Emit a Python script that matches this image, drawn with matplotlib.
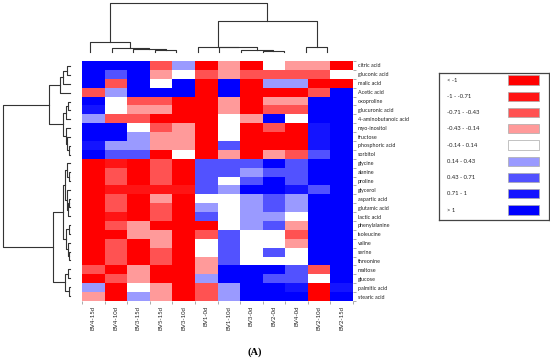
import numpy as np
import matplotlib
matplotlib.use('Agg')
import matplotlib.pyplot as plt
from matplotlib.colors import ListedColormap, BoundaryNorm
from matplotlib.patches import Rectangle

W_PX, H_PX = 550, 363

metabolites = ['citric acid', 'gluconic acid', 'malic acid', 'Acetic acid', 'oxoproline',
               'glucuronic acid', '4-aminobutanoic acid', 'myo-inositol', 'fructose',
               'phosphoric acid', 'sorbitol', 'glycine', 'alanine', 'proline', 'glycerol',
               'aspartic acid', 'glutamic acid', 'lactic acid', 'phenylalanine', 'isoleucine',
               'valine', 'serine', 'threonine', 'maltose', 'glucose', 'palmitic acid',
               'stearic acid']
samples = ['BV4-15d', 'BV4-10d', 'BV3-15d', 'BV5-15d', 'BV3-10d', 'BV1-0d',
           'BV1-10d', 'BV3-0d', 'BV2-0d', 'BV4-0d', 'BV2-10d', 'BV2-15d']

# representative value for each colour class of the legend
R0, R1, R2, R3, W, B3, B2, B1, B0 = -1.5, -0.85, -0.57, -0.28, 0.0, 0.28, 0.57, 0.85, 1.5

z_scores = np.array([
    [B0, B0, B0, R2, B3, R0, R3, R0, W,  R3, R3, R0],
    [B0, B2, B0, R3, W,  R2, R3, R2, R2, R2, R2, W ],
    [B0, R2, B0, W,  B0, R0, B0, R0, B3, B3, R0, R0],
    [R2, B3, B0, B0, B0, R0, B0, R0, R0, R0, R2, B0],
    [B0, W,  R2, R2, R0, R0, R3, R0, R3, R3, B0, B0],
    [B1, W,  R3, R3, R0, R0, R3, R0, R2, R2, B0, B0],
    [B3, R2, R2, R0, R0, R0, W,  R3, B0, W,  B0, B0],
    [B0, B0, W,  R2, R3, R0, W,  R0, R2, R0, B1, B0],
    [B0, B0, B3, R3, R3, R0, W,  R0, R0, R0, B1, B0],
    [B1, B3, B3, R3, R3, R0, B2, R0, R0, R0, B1, B0],
    [B0, B2, B2, R0, W,  R0, R3, R0, R3, R2, B2, B0],
    [R0, R1, R0, R2, R0, B2, B2, B2, B0, B2, B0, B0],
    [R0, R2, R0, R2, R0, B2, B2, B3, B2, B2, B0, B0],
    [R0, R2, R0, R2, R0, B2, W,  B2, B0, B2, B0, B0],
    [R0, R1, R1, R1, R1, B2, B3, B0, B0, B1, B2, B0],
    [R0, R2, R0, R3, R0, W,  W,  B3, B2, B3, B0, B0],
    [R0, R2, R0, R2, R0, B3, W,  B3, B2, B3, B0, B0],
    [R0, R1, R0, R2, R0, B2, W,  B3, B3, W,  B0, B0],
    [R0, R2, R3, R0, R0, R0, W,  B3, B2, R3, B0, B0],
    [R0, R0, R3, R3, R0, R2, B2, W,  W,  R2, B0, B0],
    [R0, R2, R0, R3, R0, W,  B2, W,  W,  R3, B0, B0],
    [R0, R2, R0, R2, R0, W,  B2, W,  B2, W,  B0, B0],
    [R0, R2, R0, R2, R0, R3, B2, W,  W,  W,  B0, B0],
    [R2, R0, R3, R0, R0, R3, B0, B0, B0, B2, R2, B0],
    [R0, R2, R3, R0, R0, B3, B0, B0, B2, B2, W,  B0],
    [B3, R0, W,  R3, R0, R2, B3, B0, B0, B1, R0, B1],
    [R3, R0, B3, R3, R0, R2, B3, B0, B0, B0, R0, B0],
])

legend_labels = ['< -1', '-1 - -0.71', '-0.71 - -0.43', '-0.43 - -0.14', '-0.14 - 0.14',
                 '0.14 - 0.43', '0.43 - 0.71', '0.71 - 1', '> 1']
legend_colors = ['#ff0000', '#ff1414', '#ff5252', '#ff9a9a', '#ffffff',
                 '#9a9aff', '#5252ff', '#1414ff', '#0000ff']
bounds = [-5, -1, -0.71, -0.43, -0.14, 0.14, 0.43, 0.71, 1, 5]

# linkage: (child a, child b, height); ids >= n are earlier merges
col_merges = [(3, 4, 1.8), (2, 12, 2.8), (1, 13, 4.3), (0, 14, 10.3),
              (8, 9, 1.0), (7, 16, 2.0), (6, 17, 4.7), (5, 18, 5.3),
              (10, 11, 5.3), (19, 20, 31.0), (15, 21, 48.7)]
row_merges = [(0, 1, 3.3), (27, 2, 6.7), (28, 3, 10.0), (4, 5, 2.0), (30, 6, 4.0),
              (9, 10, 1.5), (8, 32, 3.0), (7, 33, 4.5), (31, 34, 6.7), (29, 35, 20.7),
              (12, 13, 1.5), (11, 37, 3.0), (15, 16, 1.0), (39, 17, 2.0), (14, 40, 3.5),
              (38, 41, 5.0), (18, 19, 1.5), (21, 22, 1.0), (20, 44, 2.5), (43, 45, 4.0),
              (42, 46, 6.7), (23, 24, 2.0), (25, 26, 1.5), (48, 49, 5.0), (47, 50, 16.7),
              (36, 51, 66.7)]

plt.rcParams['font.family'] = ['Lato', 'DejaVu Sans']


def px_axes(fig, x0, y0, x1, y1):
    return fig.add_axes([x0 / W_PX, 1 - y1 / H_PX, (x1 - x0) / W_PX, (y1 - y0) / H_PX])


def draw_dendro(ax, merges, n, side):
    pos = {i: i + 0.5 for i in range(n)}
    hgt = {i: 0.0 for i in range(n)}
    for k, (a, b, h) in enumerate(merges):
        xs = [pos[a], pos[a], pos[b], pos[b]]
        ys = [hgt[a], h, h, hgt[b]]
        if side == 'top':
            ax.plot(xs, ys, color='#333333', lw=0.8, clip_on=False)
        else:
            ax.plot(ys, xs, color='#333333', lw=0.8, clip_on=False)
        pos[n + k] = (pos[a] + pos[b]) / 2
        hgt[n + k] = h
    ax.axis('off')


fig = plt.figure(figsize=(W_PX / 100, H_PX / 100), dpi=100)

# heatmap
ax = px_axes(fig, 82, 61, 353, 301)
cmap = ListedColormap(legend_colors)
norm = BoundaryNorm(bounds, cmap.N)
ax.pcolormesh(z_scores, cmap=cmap, norm=norm)
ax.set_xlim(0, len(samples))
ax.set_ylim(len(metabolites), 0)
for s in ax.spines.values():
    s.set_visible(False)
ax.yaxis.tick_right()
ax.set_xticks(np.arange(len(samples)) + 0.5)
ax.set_xticklabels(samples, rotation=90, fontsize=4.3, color='#222222')
ax.set_yticks(np.arange(len(metabolites)) + 0.5)
ax.set_yticklabels(metabolites, fontsize=3.9, color='#222222')
ax.set_xticks(np.arange(len(samples) + 1), minor=True)
ax.set_yticks(np.arange(len(metabolites) + 1), minor=True)
ax.tick_params(which='major', length=0, pad=3.5)
ax.tick_params(which='minor', length=2, width=0.5, color='#888888')

# dendrograms
ax_top = px_axes(fig, 79.2, 3.3, 338.1, 52)
ax_top.set_xlim(0, len(samples))
ax_top.set_ylim(0, 48.7)
draw_dendro(ax_top, col_merges, len(samples), 'top')

ax_left = px_axes(fig, 3.3, 62, 70, 300)
ax_left.set_xlim(66.7, 0)
ax_left.set_ylim(len(metabolites), 0)
draw_dendro(ax_left, row_merges, len(metabolites), 'left')

# colour key
ax_leg = px_axes(fig, 439.3, 72.7, 549.3, 220)
ax_leg.set_xlim(0, 110)
ax_leg.set_ylim(147.3, 0)
ax_leg.set_xticks([])
ax_leg.set_yticks([])
for s in ax_leg.spines.values():
    s.set_color('#444444')
    s.set_linewidth(0.9)
for i, (lab, col) in enumerate(zip(legend_labels, legend_colors)):
    yc = 7.3 + 16.25 * i
    ax_leg.add_patch(Rectangle((69, yc - 4.6), 31, 9.2, fc=col, ec='#aaaaaa', lw=0.5))
    ax_leg.text(7.5, yc, lab, va='center', ha='left', fontsize=4.2, color='#222222')

fig.text(255 / W_PX, 1 - 352 / H_PX, '(A)', ha='center', va='center',
         fontsize=7.5, fontweight='bold', family='Liberation Serif')

plt.savefig('out.png', dpi=100)
